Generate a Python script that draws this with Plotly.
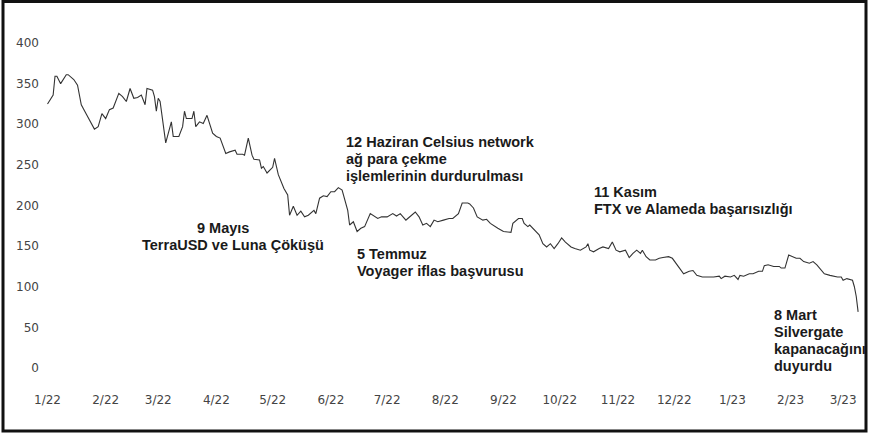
import plotly.graph_objects as go

dates = [
    "2022-01-01", "2022-01-04", "2022-01-05", "2022-01-06", "2022-01-08", "2022-01-11", "2022-01-12",
    "2022-01-15", "2022-01-17", "2022-01-19", "2022-01-22", "2022-01-25", "2022-01-26", "2022-01-28",
    "2022-01-30", "2022-02-01", "2022-02-03", "2022-02-05", "2022-02-08", "2022-02-10", "2022-02-12",
    "2022-02-14", "2022-02-16", "2022-02-18", "2022-02-20", "2022-02-22", "2022-02-23", "2022-02-26",
    "2022-02-27", "2022-02-28", "2022-03-01", "2022-03-02", "2022-03-03", "2022-03-05", "2022-03-08",
    "2022-03-09", "2022-03-12", "2022-03-14", "2022-03-15", "2022-03-16", "2022-03-19", "2022-03-20",
    "2022-03-21", "2022-03-23", "2022-03-25", "2022-03-27", "2022-03-30", "2022-04-01", "2022-04-03",
    "2022-04-06", "2022-04-08", "2022-04-11", "2022-04-12", "2022-04-15", "2022-04-16", "2022-04-18",
    "2022-04-20", "2022-04-21", "2022-04-24", "2022-04-25", "2022-04-26", "2022-04-28", "2022-05-01",
    "2022-05-02", "2022-05-04", "2022-05-07", "2022-05-09", "2022-05-10", "2022-05-12", "2022-05-14",
    "2022-05-16", "2022-05-18", "2022-05-20", "2022-05-23", "2022-05-24", "2022-05-26", "2022-05-28",
    "2022-05-30", "2022-06-01", "2022-06-03", "2022-06-05", "2022-06-07", "2022-06-10", "2022-06-11",
    "2022-06-13", "2022-06-15", "2022-06-17", "2022-06-19", "2022-06-22", "2022-06-26", "2022-06-28",
    "2022-07-01", "2022-07-04", "2022-07-06", "2022-07-08", "2022-07-11", "2022-07-12", "2022-07-16",
    "2022-07-18", "2022-07-20", "2022-07-22", "2022-07-24", "2022-07-26", "2022-07-28", "2022-07-31",
    "2022-08-03", "2022-08-05", "2022-08-08", "2022-08-10", "2022-08-13", "2022-08-14", "2022-08-16",
    "2022-08-18", "2022-08-21", "2022-08-23", "2022-08-25", "2022-08-29", "2022-09-01", "2022-09-05",
    "2022-09-06", "2022-09-09", "2022-09-11", "2022-09-12", "2022-09-14", "2022-09-15", "2022-09-18",
    "2022-09-20", "2022-09-22", "2022-09-24", "2022-09-26", "2022-09-28", "2022-09-30", "2022-10-02",
    "2022-10-04", "2022-10-07", "2022-10-09", "2022-10-12", "2022-10-15", "2022-10-16", "2022-10-17",
    "2022-10-19", "2022-10-22", "2022-10-24", "2022-10-27", "2022-10-29", "2022-10-31", "2022-11-02",
    "2022-11-05", "2022-11-07", "2022-11-09", "2022-11-11", "2022-11-13", "2022-11-14", "2022-11-16",
    "2022-11-18", "2022-11-21", "2022-11-23", "2022-11-25", "2022-11-28", "2022-11-30", "2022-12-02",
    "2022-12-04", "2022-12-06", "2022-12-09", "2022-12-11", "2022-12-13", "2022-12-16", "2022-12-18",
    "2022-12-22", "2022-12-25", "2022-12-26", "2022-12-28", "2022-12-31", "2023-01-02", "2023-01-04",
    "2023-01-05", "2023-01-07", "2023-01-10", "2023-01-12", "2023-01-15", "2023-01-17", "2023-01-18",
    "2023-01-20", "2023-01-23", "2023-01-26", "2023-01-27", "2023-01-29", "2023-01-31", "2023-02-02",
    "2023-02-04", "2023-02-06", "2023-02-08", "2023-02-11", "2023-02-13", "2023-02-15", "2023-02-17",
    "2023-02-19", "2023-02-22", "2023-02-26", "2023-02-28", "2023-03-01", "2023-03-03", "2023-03-06",
    "2023-03-07", "2023-03-08", "2023-03-09",
]

prices = [
    325, 336, 359, 359, 350, 361, 361,
    355, 348, 324, 311, 297, 294, 297,
    313, 307, 318, 320, 338, 334, 328,
    344, 332, 333, 336, 324, 344, 342,
    334, 316, 332, 328, 309, 277, 303,
    285, 285, 297, 316, 307, 307, 316,
    297, 303, 301, 311, 289, 285, 283,
    264, 266, 268, 263, 263, 262, 283,
    262, 257, 256, 246, 248, 240, 247,
    258, 238, 221, 213, 188, 199, 188,
    193, 186, 188, 194, 190, 209, 212,
    211, 217, 217, 222, 219, 194, 176,
    180, 168, 172, 174, 190, 184, 186,
    186, 190, 187, 190, 182, 184, 192,
    186, 176, 178, 174, 182, 180, 182,
    184, 184, 190, 203, 203, 202, 197,
    186, 182, 183, 178, 172, 168, 167,
    178, 184, 184, 178, 174, 176, 168,
    164, 153, 149, 153, 147, 153, 160,
    155, 149, 147, 145, 149, 153, 145,
    143, 147, 149, 147, 155, 145, 143,
    145, 136, 141, 145, 141, 145, 137,
    133, 133, 135, 136, 137, 135, 129,
    123, 116, 119, 120, 114, 112, 112,
    112, 113, 110, 113, 112, 114, 109,
    114, 113, 116, 116, 119, 119, 126,
    127, 125, 125, 123, 123, 139, 137,
    135, 135, 131, 129, 131, 127, 121,
    116, 114, 112, 112, 108, 110, 108,
    100, 88, 69,
]

y_ticks = [0, 50, 100, 150, 200, 250, 300, 350, 400]

notes = [
    ["9 Mayıs", "TerraUSD ve Luna Çöküşü"],
    ["12 Haziran Celsius network", "ağ para çekme", "işlemlerinin durdurulması"],
    ["5 Temmuz", "Voyager iflas başvurusu"],
    ["11 Kasım", "FTX ve Alameda başarısızlığı"],
    ["8 Mart", "Silvergate", "kapanacağını", "duyurdu"],
]

W, H = 869, 435
L, R, T, B = 40, 9, 27, 51
pw, ph = W - L - R, H - T - B


def px(x):
    return (x - L) / pw


def py(y):
    return (H - B - y) / ph


fig = go.Figure()
fig.add_trace(go.Scatter(x=dates, y=prices, mode="lines",
                         line=dict(color="#333333", width=1.1), showlegend=False))

# pixel spot of each note: x (left edge, or centre per line), y of first line centre
note_pos = [([223, 233], 228, "center"), (345, 141.5, "left"), (356, 254, "left"),
            (593, 192, "left"), (773, 315, "left")]
line_gap = 17
for lines, (x, y, anc) in zip(notes, note_pos):
    for i, txt in enumerate(lines):
        xx = x[i] if isinstance(x, list) else x
        fig.add_annotation(x=px(xx), y=py(y + i * line_gap), xref="paper", yref="paper", text=txt,
                           showarrow=False, xanchor=anc, yanchor="middle", borderpad=0,
                           font=dict(family="Liberation Sans", size=14.5, color="#1a1a1a", weight="bold"))

# outer frame
fig.add_shape(type="rect", xref="paper", yref="paper",
              x0=px(3), x1=px(866), y0=py(431), y1=py(1.5),
              line=dict(color="#111", width=3), layer="above")

fig.update_layout(
    width=W, height=H,
    margin=dict(l=L, r=R, t=T, b=B),
    paper_bgcolor="white", plot_bgcolor="white",
    font=dict(family="DejaVu Sans", size=12, color="#444"),
    xaxis=dict(type="date", range=["2021-12-28", "2023-03-10"], dtick="M1", tick0="2022-01-01",
               tickformat="%-m/%y", showgrid=False, zeroline=False, showline=False, ticks="",
               ticklabelstandoff=7),
    yaxis=dict(range=[-19.7, 419.7], tickvals=y_ticks, showgrid=False, zeroline=False,
               showline=False, ticks=""),
)

# page body has a default margin; drop it so the chart sits at the window corner
fig.write_html("out.html", config={"displayModeBar": False},
               post_script="document.body.style.margin='0';document.body.style.overflow='hidden';")
